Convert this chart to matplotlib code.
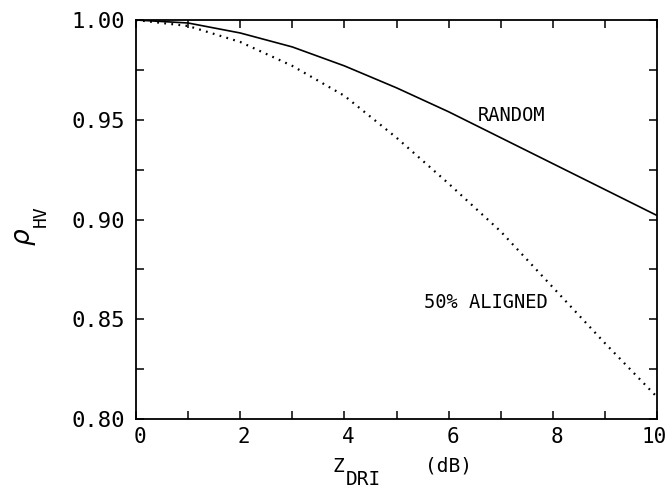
import numpy as np
import matplotlib.pyplot as plt
from matplotlib.ticker import MultipleLocator
from matplotlib.transforms import ScaledTranslation

# correlation coefficient vs differential reflectivity
zdr = [0, 1, 2, 3, 4, 5, 6, 7, 8, 9, 10]
rho_random = [1.000, 0.9985, 0.9935, 0.9865, 0.977, 0.966, 0.954, 0.941, 0.928, 0.915, 0.902]
rho_aligned = [1.000, 0.997, 0.989, 0.977, 0.962, 0.941, 0.918, 0.894, 0.866, 0.838, 0.811]
xtick_vals = [0, 2, 4, 6, 8, 10]

plt.rcParams['font.family'] = ['DejaVu Sans Mono']
plt.rcParams['mathtext.fontset'] = 'dejavusans'

W, H = 668, 488
fig = plt.figure(figsize=(W / 100, H / 100), dpi=100)
ax = fig.add_axes([0.2036, 0.1414, 0.78, 0.8176])

ax.plot(zdr, rho_random, color='black', lw=1.2)
ax.plot(zdr, rho_aligned, color='black', lw=1.6, linestyle=(0, (0.8, 2.4)))

ax.text(6.56, 0.952, 'RANDOM', fontsize=13.5, va='center', ha='left')
ax.text(5.53, 0.8584, '50% ALIGNED', fontsize=13.5, va='center', ha='left')

ax.set_xlim(0, 10)
ax.set_ylim(0.80, 1.00)
ax.set_xticks(xtick_vals)
ax.xaxis.set_minor_locator(MultipleLocator(1))
ax.yaxis.set_major_locator(MultipleLocator(0.05))
ax.yaxis.set_minor_locator(MultipleLocator(0.025))
ax.yaxis.set_major_formatter(plt.FormatStrFormatter('%.2f'))
ax.tick_params(which='both', direction='in', top=True, right=True, length=6, width=1.1)
ax.tick_params(axis='y', labelsize=16, pad=8)
ax.tick_params(axis='x', labelsize=15, pad=6)
for s in ax.spines.values():
    s.set_linewidth(1.3)

# nudge x tick labels right, but keep the last one inside the figure
ticks = ax.xaxis.get_major_ticks()
for t in ticks[:-1]:
    t.label1.set_transform(t.label1.get_transform() + ScaledTranslation(0.04, 0, fig.dpi_scale_trans))
ticks[-1].label1.set_transform(ticks[-1].label1.get_transform() + ScaledTranslation(-0.03, 0, fig.dpi_scale_trans))

# axis titles built from pieces so the subscripts stay full size
fig.text(333 / W, 1 - 472 / H, 'Z', fontsize=14, va='baseline', ha='left')
fig.text(346 / W, 1 - 485 / H, 'DRI', fontsize=14, va='baseline', ha='left')
fig.text(425 / W, 1 - 472 / H, '(dB)', fontsize=14, va='baseline', ha='left')
fig.text(38 / W, 1 - 237 / H, r'$\rho$', fontsize=19, rotation=90, va='center', ha='right')
fig.text(50 / W, 1 - 216 / H, 'HV', fontsize=13, rotation=90, va='center', ha='right')

fig.savefig('out.png', dpi=100)
